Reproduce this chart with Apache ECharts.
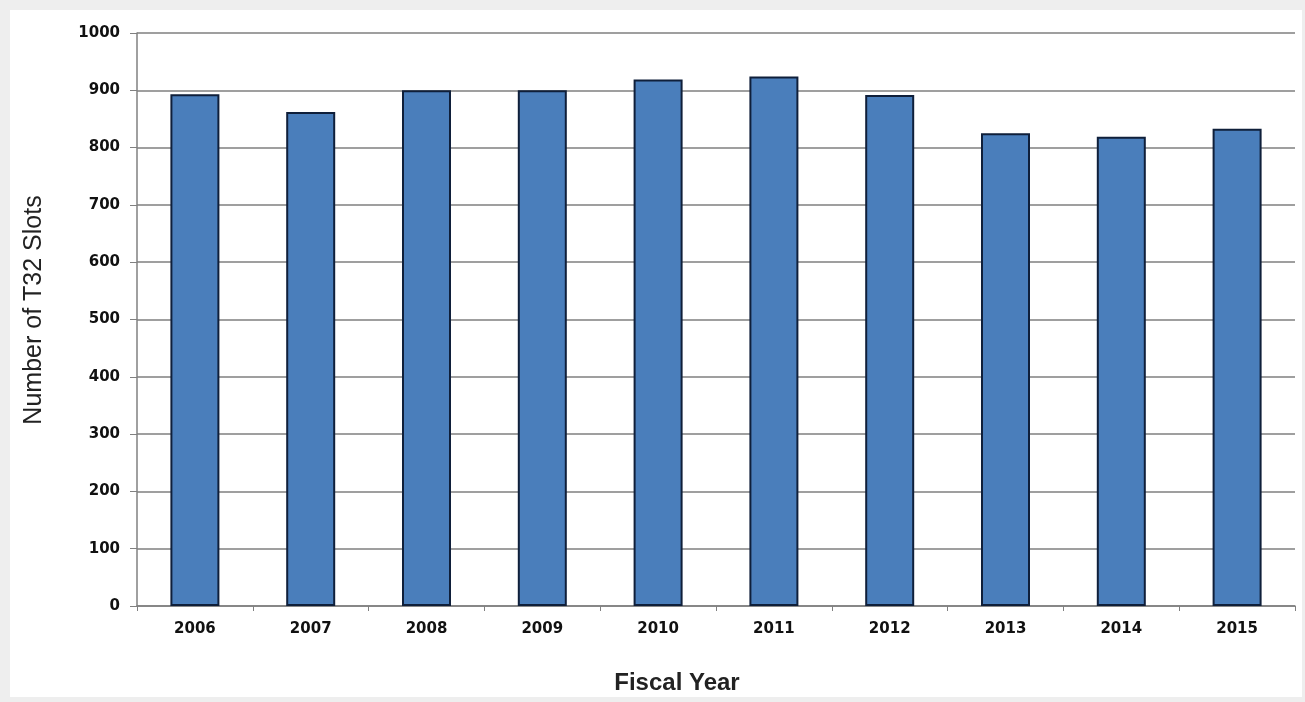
<!DOCTYPE html>
<html><head><meta charset="utf-8">
<script src="https://cdn.jsdelivr.net/npm/echarts@6/dist/echarts.min.js"></script>
<style>html,body{margin:0;padding:0;background:#eeeeee}#c{width:1305px;height:702px}</style>
</head><body><div id="c"></div>
<script>
const years = ['2006','2007','2008','2009','2010','2011','2012','2013','2014','2015'];
const slots = [893, 862, 900, 900, 919, 924, 892, 825, 819, 833];
const yTicks = {min: 0, max: 1000, interval: 100};

const chart = echarts.init(document.getElementById('c'));
chart.setOption({
  backgroundColor: '#eeeeee',
  animation: false,
  graphic: [{type: 'rect', z: -10, shape: {x: 10, y: 10, width: 1292, height: 687}, style: {fill: '#ffffff'}}],
  grid: {left: 137, top: 33, right: 10, bottom: 96, containLabel: false},
  xAxis: {
    type: 'category', data: years,
    name: 'Fiscal Year', nameLocation: 'middle', nameGap: 65,
    nameTextStyle: {fontFamily: 'Liberation Sans', fontSize: 24, color: '#222', fontWeight: 'bold', padding: [0, 78, 0, 0]},
    axisLine: {lineStyle: {color: '#808080', width: 1.5}},
    axisTick: {show: true, length: 5, lineStyle: {color: '#808080'}},
    axisLabel: {fontFamily: 'DejaVu Sans', fontSize: 15, fontWeight: 'bold', color: '#111', margin: 16}
  },
  yAxis: {
    type: 'value', min: yTicks.min, max: yTicks.max, interval: yTicks.interval,
    name: 'Number of T32 Slots', nameLocation: 'middle', nameGap: 90,
    nameTextStyle: {fontFamily: 'Liberation Sans', fontSize: 25, color: '#222', padding: [0, 0, 0, 19]},
    axisLine: {show: true, lineStyle: {color: '#808080', width: 1.5}},
    axisTick: {show: true, length: 7, lineStyle: {color: '#808080'}},
    splitLine: {lineStyle: {color: '#7f7f7f', width: 1.5}},
    axisLabel: {fontFamily: 'DejaVu Sans', fontSize: 15, fontWeight: 'bold', color: '#111', margin: 17,
      formatter: v => String(v)}
  },
  series: [{
    type: 'bar', data: slots, barWidth: 49,
    itemStyle: {color: '#4a7ebb', borderColor: '#0f1f3a', borderWidth: 2}
  }]
});
</script></body></html>
